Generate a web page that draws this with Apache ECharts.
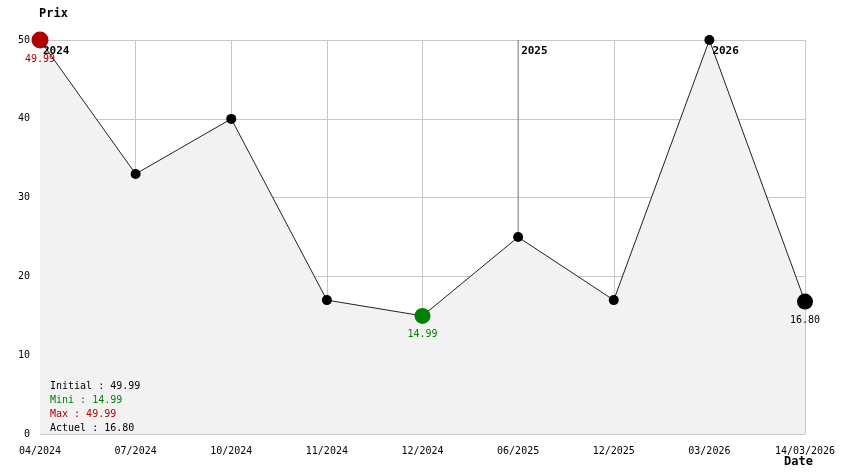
<!DOCTYPE html>
<html>
<head>
<meta charset="utf-8">
<script src="https://cdn.jsdelivr.net/npm/echarts@6/dist/echarts.min.js"></script>
<style>
  html, body { margin: 0; padding: 0; background: #fff; }
  #chart { width: 844px; height: 474px; }
</style>
</head>
<body>
<div id="chart"></div>
<script>
  // dates et prix
  var dates = ['04/2024', '07/2024', '10/2024', '11/2024', '12/2024', '06/2025', '12/2025', '03/2026', '14/03/2026'];
  var prix = [49.99, 33, 39.99, 16.99, 14.99, 24.99, 16.99, 49.99, 16.80];
  var yearCats = ['04/2024', '06/2025', '03/2026'];
  var yearLabels = ['2024', '2025', '2026'];
  var yTicks = [0, 10, 20, 30, 40, 50];

  var font = '"DejaVu Sans Mono", monospace';
  var yMin = yTicks[0], yMax = yTicks[yTicks.length - 1];
  var minVal = Math.min.apply(null, prix);
  var maxVal = Math.max.apply(null, prix);
  var iMin = prix.indexOf(minVal);
  var iMax = prix.indexOf(maxVal);
  var iLast = prix.length - 1;

  var points = prix.map(function (v, i) {
    var item = { value: v };
    if (i === iMax) {
      item.symbolSize = 17;
      item.itemStyle = { color: '#b00000' };
      item.label = { show: true, color: '#b00000' };
    } else if (i === iMin) {
      item.symbolSize = 16;
      item.itemStyle = { color: '#008000' };
      item.label = { show: true, color: '#008000' };
    } else if (i === iLast) {
      item.symbolSize = 16;
      item.itemStyle = { color: '#000' };
      item.label = { show: true, color: '#000' };
    }
    return item;
  });

  // lignes verticales des années (sous la zone grise)
  var yearLines = yearCats.slice(1).map(function (c) {
    return {
      type: 'line',
      z: 1,
      silent: true,
      symbol: 'none',
      lineStyle: { color: '#888', width: 1 },
      data: [[c, yMin], [c, yMax]]
    };
  });

  var chart = echarts.init(document.getElementById('chart'));
  chart.setOption({
    animation: false,
    textStyle: { fontFamily: font },
    grid: { left: 40, right: 39, top: 40, bottom: 40 },
    title: [
      { text: 'Prix', left: 34, top: 3, textStyle: { fontFamily: font, fontSize: 12, fontWeight: 'bold', color: '#000' } },
      { text: 'Date', left: 779, top: 451, textStyle: { fontFamily: font, fontSize: 12, fontWeight: 'bold', color: '#000' } },
      {
        left: 45, top: 374,
        text: '{k|Initial : ' + prix[0].toFixed(2) + '}\n{g|Mini : ' + minVal.toFixed(2) + '}\n{r|Max : ' + maxVal.toFixed(2) + '}\n{k|Actuel : ' + prix[iLast].toFixed(2) + '}',
        textStyle: {
          fontFamily: font, fontSize: 10, fontWeight: 'normal', lineHeight: 14,
          rich: {
            k: { color: '#000', fontFamily: font, fontSize: 10, lineHeight: 14 },
            g: { color: '#008000', fontFamily: font, fontSize: 10, lineHeight: 14 },
            r: { color: '#b00000', fontFamily: font, fontSize: 10, lineHeight: 14 }
          }
        }
      }
    ],
    xAxis: {
      type: 'category',
      data: dates,
      boundaryGap: false,
      axisLine: { show: false },
      axisTick: { show: false },
      axisLabel: { interval: 0, color: '#000', fontSize: 10, margin: 12, fontFamily: font },
      splitLine: { show: true, interval: 0, lineStyle: { color: '#c8c8c8', width: 1 } }
    },
    yAxis: {
      type: 'value',
      min: yMin,
      max: yMax,
      interval: 10,
      axisLine: { show: false },
      axisTick: { show: false },
      axisLabel: { color: '#000', fontSize: 10, margin: 10, fontFamily: font },
      splitLine: { show: true, lineStyle: { color: '#c8c8c8', width: 1 } }
    },
    series: yearLines.concat([
      {
        name: 'Prix',
        type: 'line',
        z: 2,
        data: points,
        symbol: 'circle',
        symbolSize: 10,
        showAllSymbol: true,
        lineStyle: { color: '#222', width: 1 },
        itemStyle: { color: '#000' },
        areaStyle: { color: '#f2f2f2', opacity: 1 },
        label: {
          show: false,
          position: 'bottom',
          distance: 6,
          fontSize: 10,
          fontFamily: font,
          formatter: function (p) { return p.value.toFixed(2); }
        }
      },
      {
        name: 'annees',
        type: 'scatter',
        z: 3,
        symbolSize: 0,
        silent: true,
        itemStyle: { opacity: 1, color: '#000' },
        data: yearCats.map(function (c, i) { return { value: [c, yMax], name: yearLabels[i] }; }),
        label: {
          show: true,
          position: [3, 6],
          formatter: '{b}',
          color: '#000',
          opacity: 1,
          fontWeight: 'bold',
          fontSize: 11,
          fontFamily: font
        }
      }
    ])
  });
</script>
</body>
</html>
